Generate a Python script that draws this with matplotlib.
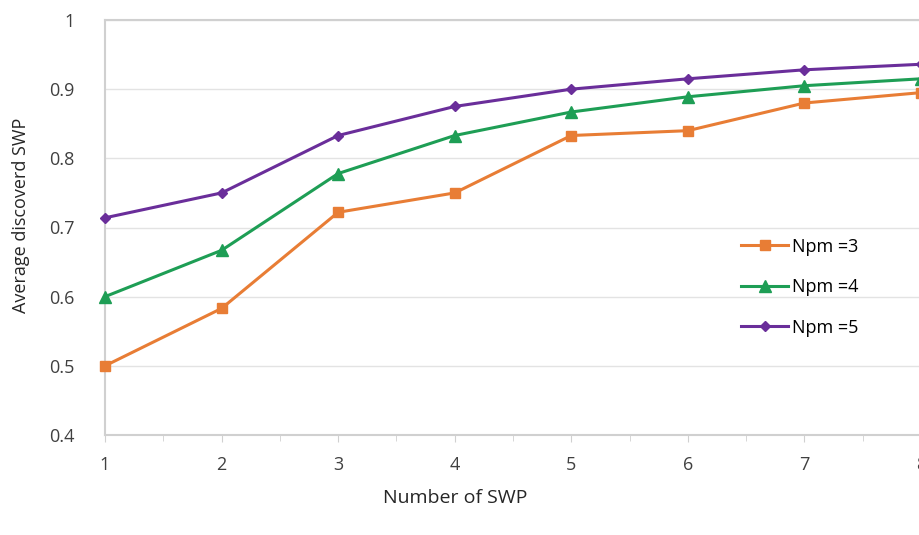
import matplotlib.pyplot as plt
from matplotlib.ticker import MultipleLocator

# Data
swp = [1, 2, 3, 4, 5, 6, 7, 8]
npm3 = [0.500, 0.583, 0.722, 0.750, 0.833, 0.840, 0.880, 0.895]
npm4 = [0.600, 0.667, 0.778, 0.833, 0.867, 0.889, 0.905, 0.915]
npm5 = [0.714, 0.750, 0.833, 0.875, 0.900, 0.915, 0.928, 0.936]

plt.rcParams['font.family'] = ['Open Sans', 'DejaVu Sans']

fig = plt.figure(figsize=(9.2, 5.35), dpi=100)
ax = fig.add_axes([105 / 920, 100 / 535, 816 / 920, 415 / 535])

ax.plot(swp, npm3, color='#E87D35', lw=2.2, marker='s', ms=7.5, label='Npm =3', clip_on=False, zorder=3)
ax.plot(swp, npm4, color='#1E9E55', lw=2.2, marker='^', ms=8, label='Npm =4', clip_on=False, zorder=3)
ax.plot(swp, npm5, color='#6A2E9A', lw=2.2, marker='D', ms=5.5, label='Npm =5', clip_on=False, zorder=3)

ax.set_xlim(1, 8)
ax.set_ylim(0.4, 1.0)
ax.set_yticks([0.4, 0.5, 0.6, 0.7, 0.8, 0.9, 1.0])
ax.set_yticklabels(['0.4', '0.5', '0.6', '0.7', '0.8', '0.9', '1'])
ax.xaxis.set_minor_locator(MultipleLocator(0.5))
ax.grid(axis='y', color='#E3E3E3', lw=1)
ax.set_axisbelow(True)

for s in ax.spines.values():
    s.set_color('#D0D0D0')
    s.set_linewidth(1.5)

ax.tick_params(axis='y', length=0, labelsize=13, labelcolor='#404040', pad=22)
ax.tick_params(axis='x', which='major', length=5, color='#D0D0D0', labelsize=13, labelcolor='#404040', pad=10)
ax.tick_params(axis='x', which='minor', length=4, color='#D0D0D0')

ax.set_xlabel('Number of SWP', fontsize=14, color='#262626')
ax.set_ylabel('Average discoverd SWP', fontsize=13, color='#262626')
ax.xaxis.set_label_coords(0.429, -0.13)
ax.yaxis.set_label_coords(-0.092, 0.53)

ax.legend(loc='upper left', bbox_to_anchor=(0.76, 0.515), frameon=False, fontsize=13,
          handlelength=2.6, labelspacing=1.25, handletextpad=0.2)

fig.savefig('out.png', dpi=100)
